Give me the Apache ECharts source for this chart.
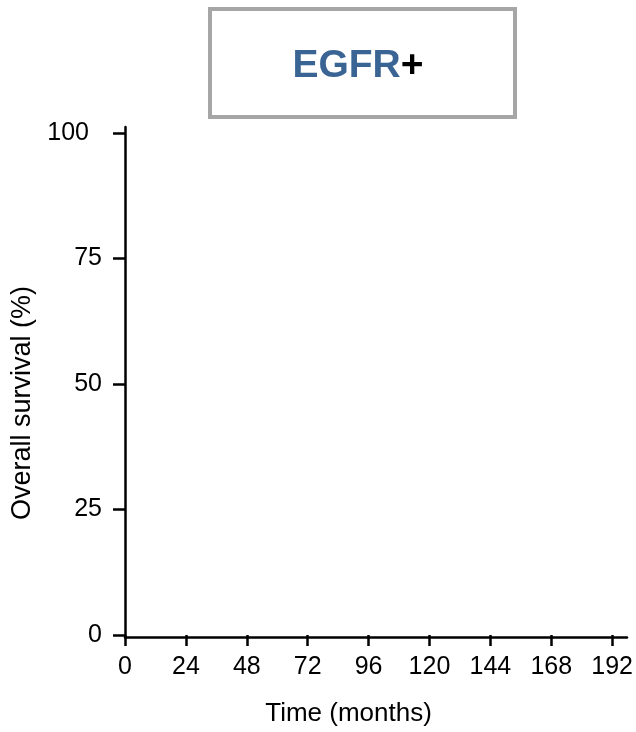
<!DOCTYPE html>
<html>
<head>
<meta charset="utf-8">
<script src="https://cdn.jsdelivr.net/npm/echarts@6/dist/echarts.min.js"></script>
<style>
html,body{margin:0;padding:0;background:#fff;}
#chart{width:636px;height:732px;}
</style>
</head>
<body>
<div id="chart"></div>
<script>
// Data (the reference plot contains no curves, only the axes)
const xTicks = [0, 24, 48, 72, 96, 120, 144, 168, 192];
const yTicks = [0, 25, 50, 75, 100];
const seriesData = []; // no survival curves shown in reference
const titleMain = 'EGFR';
const titleSuffix = '+';
const xAxisName = 'Time (months)';
const yAxisName = 'Overall survival (%)';

const FONT = '"Liberation Sans", Arial, sans-serif';

const chart = echarts.init(document.getElementById('chart'), null, {renderer: 'canvas'});
chart.setOption({
  backgroundColor: '#ffffff',
  animation: false,
  graphic: [
    {
      type: 'rect', left: 208, top: 7, z: 10,
      shape: {width: 305, height: 108},
      style: {fill: '#ffffff', stroke: '#a6a6a6', lineWidth: 4}
    },
    {
      type: 'text', z: 11,
      x: 358, y: 66,
      style: {
        text: '{a|' + titleMain + '}{b|' + titleSuffix + '}',
        align: 'center', verticalAlign: 'middle',
        rich: {
          a: {fontFamily: FONT, fontWeight: 'bold', fontSize: 39, fill: '#3a6493'},
          b: {fontFamily: FONT, fontWeight: 'bold', fontSize: 39, fill: '#000000'}
        }
      }
    }
  ],
  grid: [
    {left: 125, right: 18, top: 133, bottom: 95, containLabel: false},
    {left: 125, right: 9, top: 127, bottom: 95, containLabel: false}
  ],
  xAxis: [
    {
      type: 'value', gridIndex: 0,
      min: xTicks[0], max: xTicks[xTicks.length - 1], interval: 24,
      name: xAxisName, nameLocation: 'middle', nameGap: 66,
      nameTextStyle: {fontFamily: FONT, fontSize: 26, color: '#000', padding: [0, 40, 0, 0]},
      axisLine: {show: false},
      axisTick: {show: true, length: 11, lineStyle: {color: '#000', width: 2.5}},
      axisLabel: {fontFamily: FONT, fontSize: 25, color: '#000', margin: 20},
      splitLine: {show: false}
    },
    {
      type: 'value', gridIndex: 1, min: 0, max: 1,
      axisLine: {show: true, onZero: false, lineStyle: {color: '#000', width: 2.5}},
      axisTick: {show: false}, axisLabel: {show: false}, splitLine: {show: false}
    }
  ],
  yAxis: [
    {
      type: 'value', gridIndex: 0,
      min: yTicks[0], max: yTicks[yTicks.length - 1], interval: 25,
      name: yAxisName, nameLocation: 'middle', nameGap: 85, nameRotate: 90,
      nameTextStyle: {fontFamily: FONT, fontSize: 27, color: '#000', padding: [0, 38, 0, 0]},
      axisLine: {show: false},
      axisTick: {show: true, length: 12, lineStyle: {color: '#000', width: 2.5}},
      axisLabel: {
        fontFamily: FONT, fontSize: 25, color: '#000', margin: 23,
        formatter: function (v) { return v === 100 ? '{p|' + v + '}' : String(v); },
        rich: {p: {fontFamily: FONT, fontSize: 25, color: '#000', padding: [0, 13, 0, 0]}}
      },
      splitLine: {show: false}
    },
    {
      type: 'value', gridIndex: 1, min: 0, max: 1,
      axisLine: {show: true, onZero: false, lineStyle: {color: '#000', width: 2.5}},
      axisTick: {show: false}, axisLabel: {show: false}, splitLine: {show: false}
    }
  ],
  series: [
    {type: 'line', xAxisIndex: 0, yAxisIndex: 0, data: seriesData, showSymbol: false}
  ]
});
</script>
</body>
</html>
